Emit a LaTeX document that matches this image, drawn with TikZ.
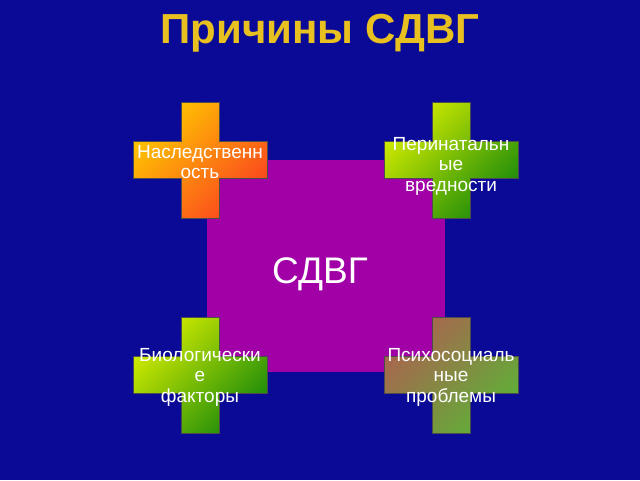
\documentclass[tikz,border=0pt]{standalone}
\usepackage{fontspec}
\setmainfont{Liberation Sans}
\usetikzlibrary{positioning}
\definecolor{fon}{RGB}{10,10,150}
\definecolor{zoloto}{RGB}{232,192,32}
\definecolor{lilovyj}{RGB}{160,0,165}
\definecolor{oranzh1}{RGB}{255,200,0}
\definecolor{oranzh2}{RGB}{250,70,30}
\definecolor{zel1}{RGB}{210,235,0}
\definecolor{zel2}{RGB}{30,140,10}
\definecolor{bur1}{RGB}{170,100,80}
\definecolor{bur2}{RGB}{95,175,55}
\tikzstyle{krest} = [draw=black!70, line width=0.8pt]
\tikzstyle{podpis} = [text=white, align=center, font=\fontsize{19}{20.5}\selectfont, inner sep=0pt]
% cross round a centre: #1 centre, #2 colours
\newcommand{\plusik}[2]{%
  \path[krest,#2,shading angle=45] (#1) ++(-19,58) -- ++(38,0) -- ++(0,-39.5)
    -- ++(48,0) -- ++(0,-37) -- ++(-48,0) -- ++(0,-39.5) -- ++(-38,0)
    -- ++(0,39.5) -- ++(-48,0) -- ++(0,37) -- ++(48,0) -- cycle;}

\begin{document}
\begin{tikzpicture}[x=1pt,y=1pt]

\fill[fon] (0,0) rectangle (640,-480);
\useasboundingbox (0,0) rectangle (640,-480);

\node[text=zoloto, font=\fontsize{42}{50}\selectfont\bfseries, anchor=base] (zagolovok) at (320,-43) {Причины СДВГ};

\fill[lilovyj] (207,-160) rectangle (445,-372);
\node[text=white, font=\fontsize{37}{44}\selectfont, anchor=base] (sdvg) at (320,-283) {СДВГ};

\coordinate (c1) at (200,-160);
\coordinate (c2) at (451,-160);
\coordinate (c3) at (200,-375);
\coordinate (c4) at (451,-375);

\plusik{c1}{top color=oranzh1, bottom color=oranzh2}
\plusik{c2}{top color=zel1, bottom color=zel2}
\plusik{c3}{top color=zel1, bottom color=zel2}
\plusik{c4}{top color=bur1, bottom color=bur2}

\node[podpis] (nasl) at ([yshift=-2]c1) {Наследственн\\ость};
\node[podpis] (perin) at ([yshift=-6]c2) {Перинатальн\\ые\\вредности};
\node[podpis] (biol) at ([yshift=-2]c3) {Биологически\\е\\факторы};
\node[podpis] (psih) at ([yshift=-2]c4) {Психосоциаль\\ные\\проблемы};

\end{tikzpicture}
\end{document}
